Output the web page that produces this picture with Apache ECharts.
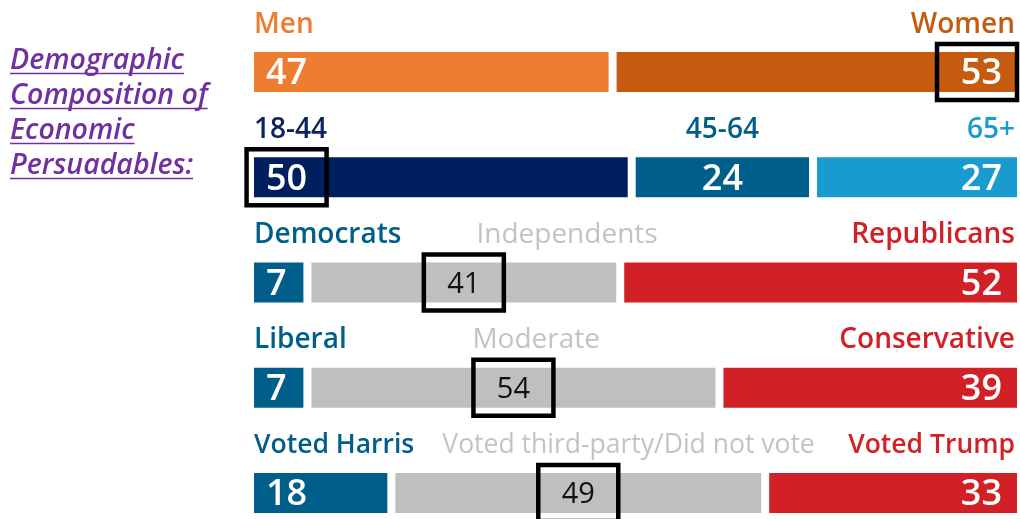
<!DOCTYPE html>
<html><head><meta charset="utf-8">
<script src="https://cdn.jsdelivr.net/npm/echarts@6/dist/echarts.min.js"></script>
<style>html,body{margin:0;padding:0;background:#fff;overflow:hidden;width:1020px;height:519px}#c{width:1020px;height:560px}</style>
</head><body><div id="c"></div>
<script>
// ---- data ----
const titleLines = ['Demographic', 'Composition of', 'Economic', 'Persuadables:'];
const rowKeys = ['Gender', 'Age', 'Party', 'Ideology', '2024 Vote'];
const genderLabels = ['Men', 'Women'];
const genderValues = [47, 53];
const ageLabels = ['18-44', '45-64', '65+'];
const ageValues = [50, 24, 27];
const partyLabels = ['Democrats', 'Independents', 'Republicans'];
const partyValues = [7, 41, 52];
const ideologyLabels = ['Liberal', 'Moderate', 'Conservative'];
const ideologyValues = [7, 54, 39];
const voteLabels = ['Voted Harris', 'Voted third-party/Did not vote', 'Voted Trump'];
const voteValues = [18, 49, 33];
const highlightedSegment = [1, 0, 1, 1, 1];

const rowLabels = [genderLabels, ageLabels, partyLabels, ideologyLabels, voteLabels];
const rowValues = [genderValues, ageValues, partyValues, ideologyValues, voteValues];

// ---- styles ----
const GRAY = '#BFBFBF';
const segColors = [
  ['#ED7D31', '#C55A11'],
  ['#001F5F', '#005F8A', '#1A9BCF'],
  ['#005F8A', GRAY, '#D22027'],
  ['#005F8A', GRAY, '#D22027'],
  ['#005F8A', GRAY, '#D22027']
];
const labelColors = [
  ['#ED7D31', '#C55A11'],
  ['#0B2361', '#005F8A', '#1A9BCF'],
  ['#005F8A', '#C3C3C3', '#D22027'],
  ['#005F8A', '#C3C3C3', '#D22027'],
  ['#005F8A', '#C3C3C3', '#D22027']
];
const midLabelOffset = [null, 'center', 165, 161, 47];
const labelSize = [28, 28, 28, 28, 26.5];
const FONT = '"Open Sans", "Noto Sans", sans-serif';
const BAR_H = 40, GAP = 8, CANVAS_W = 1020;

const mctx = document.createElement('canvas').getContext('2d');
function textWidth(t, font) { mctx.font = font; return mctx.measureText(t).width; }

const data = [];
rowValues.forEach((vals, r) => {
  const total = vals.reduce((a, b) => a + b, 0);
  let cum = 0;
  vals.forEach((v, i) => {
    const s = cum / total * 100; cum += v; const e = cum / total * 100;
    data.push({ value: [s, e, r, i, v] });
  });
});

function renderItem(params, api) {
  const s = api.value(0), e = api.value(1), r = api.value(2), i = api.value(3), v = api.value(4);
  const n = rowValues[r].length;
  const p0 = api.coord([s, r]), p1 = api.coord([e, r]);
  const x0 = p0[0] + (i > 0 ? GAP / 2 : 0);
  const x1 = p1[0] - (i < n - 1 ? GAP / 2 : 0);
  const yc = p0[1], top = yc - BAR_H / 2;
  const color = segColors[r][i];
  const isGray = color === GRAY;
  const children = [];
  children.push({ type: 'rect', shape: { x: x0, y: top, width: x1 - x0, height: BAR_H }, style: { fill: color } });

  // value text
  const vFont = isGray ? `400 29px ${FONT}` : `600 36px ${FONT}`;
  const vText = String(v);
  const vw = textWidth(vText, vFont);
  let vx, vAlign, vCenter;
  if (i === 0) { vx = x0 + 12; vAlign = 'left'; vCenter = vx + vw / 2; }
  else if (i === n - 1) { vx = x1 - 15; vAlign = 'right'; vCenter = vx - vw / 2; }
  else { vx = (x0 + x1) / 2; vAlign = 'center'; vCenter = vx; }
  children.push({ type: 'text', style: { text: vText, x: vx, y: yc + 2, fill: isGray ? '#111' : '#fff', font: vFont, align: vAlign, verticalAlign: 'middle' } });

  // category label
  const lw = isGray ? 500 : 600;
  const lFont = `${lw} ${labelSize[r]}px ${FONT}`;
  let lx, lAlign;
  if (i === 0) { lx = x0; lAlign = 'left'; }
  else if (i === n - 1) { lx = x1 - 2; lAlign = 'right'; }
  else if (midLabelOffset[r] === 'center') { lx = (x0 + x1) / 2; lAlign = 'center'; }
  else { lx = x0 + midLabelOffset[r]; lAlign = 'left'; }
  children.push({ type: 'text', style: { text: rowLabels[r][i], x: lx, y: top - 27.5, fill: labelColors[r][i], font: lFont, align: lAlign, verticalAlign: 'middle' } });

  // highlight box
  if (highlightedSegment[r] === i) {
    const bw = 80, bh = 56;
    let bx = vCenter - bw / 2;
    if (bx + bw > CANVAS_W - 3) bx = CANVAS_W - 3 - bw;
    children.push({ type: 'rect', shape: { x: bx, y: yc - bh / 2, width: bw, height: bh }, style: { fill: 'none', stroke: '#000', lineWidth: 4.5 }, z2: 10 });
  }
  return { type: 'group', children };
}

const titleFont = `italic 600 28.5px ${FONT}`;
const graphics = [];
titleLines.forEach((t, k) => {
  const base = 71 + k * 35;
  graphics.push({ type: 'text', left: 10, top: base - 25, style: { text: t, font: titleFont, fill: '#7030A0' } });
  const w = textWidth(t, titleFont);
  graphics.push({ type: 'line', shape: { x1: 10, y1: base + 2.5, x2: 10 + w, y2: base + 2.5 }, style: { stroke: '#7030A0', lineWidth: 1.5 } });
});

const chart = echarts.init(document.getElementById('c'), null, { renderer: 'canvas' });
chart.setOption({
  animation: false,
  backgroundColor: '#fff',
  grid: { left: 254, right: 3, top: 19.5, height: 526 },
  xAxis: { type: 'value', min: 0, max: 100, show: false },
  yAxis: { type: 'category', data: rowKeys, inverse: true, show: false },
  graphic: graphics,
  series: [{
    type: 'custom',
    clip: false,
    renderItem: renderItem,
    encode: { x: [0, 1], y: 2 },
    data: data
  }]
});
</script></body></html>
